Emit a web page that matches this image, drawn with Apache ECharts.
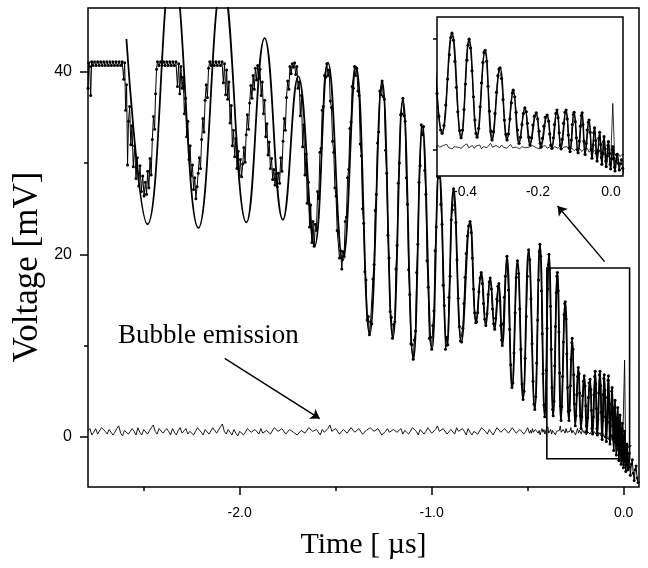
<!DOCTYPE html>
<html>
<head>
<meta charset="utf-8">
<script src="https://cdn.jsdelivr.net/npm/echarts@6/dist/echarts.min.js"></script>
<style>
html, body { margin: 0; padding: 0; background: #fff; }
#chart { width: 648px; height: 568px; }
</style>
</head>
<body>
<div id="chart"></div>
<script>
// measured trace [time µs, voltage mV] (dots joined by a thin line)
var measData = [
  [-2.790,38.2],[-2.786,41.0],[-2.781,40.6],[-2.776,37.4],[-2.771,41.1],[-2.764,40.7],[-2.756,41.1],[-2.748,40.7],[-2.740,41.1],[-2.732,40.7],
  [-2.724,41.1],[-2.716,40.7],[-2.708,41.1],[-2.700,40.7],[-2.692,41.1],[-2.684,40.7],[-2.676,41.1],[-2.668,40.7],[-2.660,41.1],[-2.652,40.7],
  [-2.644,41.1],[-2.636,40.7],[-2.628,41.1],[-2.620,40.7],[-2.612,41.1],[-2.604,39.2],[-2.599,41.0],
  [-2.594,35.8],[-2.589,38.6],[-2.584,29.8],[-2.579,34.6],[-2.573,36.2],[-2.567,32.0],[-2.561,34.1],[-2.554,29.6],[-2.547,31.9],[-2.540,28.3],
  [-2.533,30.6],[-2.526,27.5],[-2.519,29.7],[-2.512,26.9],[-2.505,28.6],[-2.498,26.4],[-2.491,27.9],[-2.485,26.6],[-2.479,29.1],[-2.473,27.3],
  [-2.467,30.5],[-2.461,28.7],[-2.455,32.6],[-2.449,35.1],[-2.443,33.7],[-2.438,37.6],[-2.433,40.3],
  [-2.428,41.1],[-2.420,40.7],[-2.412,41.1],[-2.404,40.7],[-2.396,41.1],[-2.388,40.7],[-2.380,41.1],[-2.372,40.7],[-2.364,41.1],[-2.356,40.7],
  [-2.348,41.1],[-2.340,40.7],[-2.332,41.1],[-2.324,38.4],[-2.318,40.9],[-2.312,37.6],[-2.306,40.6],
  [-2.300,38.2],[-2.294,39.4],[-2.288,35.4],[-2.282,37.1],[-2.276,32.9],[-2.270,34.6],[-2.264,30.4],[-2.258,31.9],[-2.252,28.6],[-2.246,29.8],
  [-2.240,27.1],[-2.234,28.4],[-2.228,26.1],[-2.222,27.4],[-2.216,28.9],[-2.210,30.6],[-2.204,29.4],[-2.198,32.6],[-2.192,34.9],[-2.186,33.4],
  [-2.180,36.9],[-2.174,38.6],[-2.168,37.2],[-2.162,40.4],
  [-2.156,41.1],[-2.148,40.7],[-2.140,41.1],[-2.132,40.7],[-2.124,41.1],[-2.116,40.7],[-2.108,41.1],[-2.100,40.7],[-2.092,41.1],[-2.085,38.8],
  [-2.079,40.9],[-2.073,37.5],[-2.068,40.2],
  [-2.062,37.0],[-2.056,38.9],[-2.050,34.4],[-2.044,36.3],[-2.038,31.9],[-2.032,33.6],[-2.026,30.7],[-2.020,32.7],[-2.014,29.4],[-2.008,31.3],
  [-2.002,28.7],[-1.996,30.4],[-1.990,28.5],[-1.984,29.9],[-1.978,31.7],[-1.972,30.1],[-1.966,33.1],[-1.960,35.3],[-1.954,33.7],[-1.948,36.6],
  [-1.942,38.5],[-1.936,37.1],[-1.930,39.6],[-1.924,38.1],[-1.918,40.4],[-1.912,39.1],[-1.906,40.7],[-1.900,39.3],[-1.894,40.3],[-1.888,37.4],
  [-1.882,38.9],[-1.876,35.4],[-1.870,36.9],[-1.864,32.9],[-1.858,34.3],[-1.852,30.9],[-1.846,32.3],[-1.840,29.4],[-1.834,30.5],[-1.828,28.2],
  [-1.822,29.3],[-1.816,27.6],[-1.810,28.8],[-1.804,27.4],[-1.798,28.9],[-1.792,27.8],[-1.786,30.6],[-1.780,29.1],[-1.774,32.4],[-1.768,34.9],
  [-1.762,33.6],[-1.756,37.2],[-1.750,39.0],[-1.744,38.1],[-1.738,40.6],[-1.732,39.8],[-1.726,40.9],[-1.720,40.5],[-1.714,41.0],[-1.708,39.7],
  [-1.702,40.6],[-1.696,38.2],
  [-1.690,38.9],[-1.684,35.2],[-1.678,37.4],[-1.672,31.8],[-1.666,34.2],[-1.660,28.7],[-1.654,31.0],[-1.648,25.6],[-1.642,27.9],[-1.636,23.0],
  [-1.630,25.4],[-1.624,21.3],[-1.618,23.6],[-1.612,20.9],[-1.606,23.3],[-1.600,22.6],[-1.594,26.9],[-1.588,26.1],[-1.582,31.2],[-1.576,31.6],
  [-1.570,35.8],[-1.564,36.2],[-1.558,39.6],[-1.552,39.4],[-1.546,40.9],[-1.540,39.6],[-1.534,40.2],
  [-1.528,36.8],[-1.522,36.1],[-1.516,32.4],[-1.510,31.2],[-1.504,27.3],[-1.498,26.4],[-1.492,22.6],[-1.486,22.5],[-1.480,19.6],[-1.474,20.4],
  [-1.468,18.4],[-1.462,20.3],[-1.456,19.8],[-1.450,23.6],[-1.444,24.1],[-1.438,28.4],[-1.432,29.3],[-1.426,33.8],[-1.420,34.5],[-1.414,38.4],
  [-1.408,38.2],[-1.402,40.6],[-1.396,39.6],[-1.390,40.4],[-1.384,37.9],
  [-1.378,37.4],[-1.372,32.1],[-1.366,30.8],[-1.360,25.0],[-1.354,23.4],[-1.348,18.1],[-1.342,17.2],[-1.336,12.8],[-1.330,13.2],[-1.324,11.2],
  [-1.318,12.6],[-1.312,12.4],[-1.306,17.3],[-1.300,18.9],[-1.294,24.8],[-1.288,26.6],[-1.282,32.2],[-1.276,33.4],[-1.270,37.9],[-1.264,37.5],
  [-1.258,39.0],[-1.252,37.3],
  [-1.246,37.0],[-1.240,31.4],[-1.234,28.9],[-1.228,22.1],[-1.222,19.6],[-1.216,13.7],[-1.210,13.1],[-1.204,10.8],[-1.198,12.3],[-1.192,12.6],
  [-1.186,18.4],[-1.180,21.0],[-1.174,27.8],[-1.168,30.0],[-1.162,35.3],[-1.156,35.4],[-1.150,37.1],[-1.144,35.2],
  [-1.138,34.6],[-1.132,28.4],[-1.126,25.5],[-1.120,18.3],[-1.114,15.6],[-1.108,10.2],[-1.102,10.1],[-1.096,8.5],[-1.090,10.6],[-1.084,11.6],
  [-1.078,18.0],[-1.072,21.1],[-1.066,27.9],[-1.060,29.7],[-1.054,34.2],[-1.048,33.1],[-1.042,34.0],
  [-1.036,29.2],[-1.030,26.6],[-1.024,19.3],[-1.018,16.4],[-1.012,10.8],[-1.006,10.9],[-1.000,9.6],[-0.994,12.2],[-0.988,13.8],[-0.982,20.4],
  [-0.976,23.0],[-0.970,28.6],[-0.964,28.4],[-0.958,29.4],
  [-0.952,25.5],[-0.946,23.3],[-0.940,16.6],[-0.934,14.4],[-0.928,9.6],[-0.922,10.9],[-0.916,10.1],[-0.910,15.3],[-0.904,17.6],[-0.898,23.8],
  [-0.892,24.9],[-0.886,27.2],[-0.880,25.4],
  [-0.874,23.5],[-0.868,19.4],[-0.862,15.2],[-0.856,12.1],[-0.850,10.5],[-0.844,10.4],[-0.838,11.9],[-0.832,14.6],[-0.826,17.5],[-0.820,20.1],
  [-0.814,22.0],[-0.808,23.1],[-0.800,23.6],
  [-0.794,22.4],[-0.788,19.6],[-0.782,16.2],[-0.776,13.6],[-0.770,12.5],[-0.765,12.6],[-0.760,13.6],[-0.754,15.9],[-0.748,17.4],[-0.742,18.0],
  [-0.736,16.8],[-0.730,14.6],[-0.724,12.9],[-0.718,12.2],[-0.712,13.5],[-0.706,15.6],[-0.700,17.0],[-0.695,17.4],[-0.689,16.2],[-0.683,14.0],
  [-0.677,12.4],[-0.672,11.8],[-0.667,13.0],[-0.661,15.1],[-0.655,16.5],[-0.650,16.8],[-0.645,14.9],[-0.640,12.2],[-0.636,10.6],[-0.632,10.0],
  [-0.627,12.4],[-0.622,15.3],[-0.616,17.6],[-0.608,19.8],[-0.600,16.1],[-0.594,11.8],[-0.588,7.9],[-0.582,5.4],[-0.577,5.9],[-0.571,9.2],
  [-0.565,13.6],[-0.559,17.5],[-0.553,19.3],[-0.547,17.9],[-0.541,14.0],[-0.535,9.6],[-0.529,5.8],[-0.524,4.1],[-0.519,5.0],[-0.513,8.6],
  [-0.507,13.2],[-0.501,17.6],[-0.495,20.5],[-0.489,19.4],[-0.483,15.1],[-0.477,10.2],[-0.472,6.1],[-0.467,3.6],[-0.463,3.0],[-0.458,4.4],
  [-0.453,8.1],[-0.448,12.8],[-0.443,17.2],[-0.439,20.3],[-0.436,21.1],[-0.432,19.8],[-0.428,16.0],[-0.424,11.3],[-0.420,6.9],[-0.415,3.5],
  [-0.411,2.2],[-0.407,3.6],[-0.403,7.3],[-0.399,11.9],[-0.395,16.2],[-0.392,18.9],[-0.389,20.0],[-0.385,18.4],[-0.381,14.3],[-0.377,9.6],
  [-0.373,5.4],[-0.370,3.0],[-0.367,2.3],[-0.363,3.9],[-0.359,7.8],[-0.355,12.1],[-0.351,15.8],[-0.348,17.6],[-0.345,18.0],[-0.341,16.0],
  [-0.337,11.5],[-0.333,7.0],[-0.329,3.4],[-0.326,1.8],[-0.322,3.3],[-0.318,6.6],[-0.314,10.4],[-0.310,13.4],[-0.307,14.6],[-0.304,14.8],
  [-0.300,12.9],[-0.296,9.1],[-0.292,5.4],[-0.288,2.8],[-0.285,1.8],[-0.281,2.9],[-0.277,5.6],[-0.273,8.5],[-0.270,10.3],[-0.268,10.8],
  [-0.264,9.6],[-0.260,6.8],[-0.256,3.6],[-0.252,1.2],[-0.248,2.3],[-0.244,4.6],[-0.240,6.6],[-0.236,7.6],[-0.232,6.9],[-0.229,4.8],
  [-0.225,2.3],[-0.222,0.9],[-0.218,2.2],[-0.214,4.5],[-0.210,6.1],[-0.205,6.7],[-0.201,5.6],[-0.197,3.4],[-0.194,1.2],[-0.192,0.5],
  [-0.188,2.1],[-0.184,4.3],[-0.180,5.9],[-0.175,6.3],[-0.171,5.2],[-0.168,2.9],[-0.165,0.9],[-0.162,0.3],[-0.158,2.2],[-0.155,4.6],
  [-0.151,6.6],[-0.148,7.2],[-0.145,5.8],[-0.142,3.1],[-0.139,0.9],[-0.137,0.2],[-0.134,1.9],[-0.130,4.8],[-0.126,6.8],[-0.123,7.2],
  [-0.120,5.6],[-0.117,2.7],[-0.114,0.4],[-0.112,-0.3],[-0.109,1.8],[-0.106,4.6],[-0.103,6.4],[-0.101,6.8],[-0.098,5.1],[-0.095,2.2],
  [-0.092,0.0],[-0.090,-0.5],[-0.087,1.6],[-0.084,4.3],[-0.081,6.2],[-0.079,6.7],[-0.077,4.6],[-0.074,1.6],[-0.071,-0.8],[-0.068,1.2],
  [-0.065,3.6],[-0.062,5.0],[-0.060,5.4],[-0.057,3.2],[-0.054,0.1],[-0.052,-1.5],[-0.049,0.9],[-0.047,3.1],[-0.045,4.0],[-0.042,1.7],
  [-0.040,-0.6],[-0.038,-2.0],[-0.035,-0.1],[-0.033,2.1],[-0.031,3.2],[-0.028,1.0],[-0.026,-1.4],[-0.025,-2.6],[-0.022,-0.6],[-0.020,1.5],
  [-0.019,2.4],[-0.016,0.2],[-0.014,-2.0],[-0.013,-3.0],[-0.010,-1.1],[-0.008,0.8],[-0.007,1.5],[-0.004,-0.7],[-0.002,-2.6],[-0.001,-3.4],
  [0.002,-1.6],[0.004,0.1],[0.005,0.6],[0.008,-1.5],[0.010,-3.1],[0.011,-3.8],[0.014,-2.0],[0.016,-0.9],[0.017,-0.8],[0.020,-2.4],
  [0.023,-3.6],[0.026,-2.5],[0.029,-1.8],[0.032,-3.3],[0.035,-4.2],[0.040,-3.0],[0.045,-2.5],[0.050,-4.0],[0.055,-4.8],[0.060,-3.6],
  [0.065,-3.2],[0.070,-4.5],[0.075,-5.0]
];

// fitted curve, turning points only (drawn smooth)
var fitData = [
  [-2.590,43.6],[-2.480,23.3],[-2.350,51.8],[-2.215,22.9],[-2.090,50.0],[-1.965,23.5],[-1.870,43.7],[-1.775,23.8],[-1.695,39.5],[-1.610,20.9],
  [-1.540,41.0],[-1.463,19.3],[-1.394,40.6],[-1.323,11.2],[-1.258,39.0],[-1.202,10.8],[-1.150,37.0],[-1.095,8.5],[-1.048,34.0],[-0.998,9.6],
  [-0.961,29.3],[-0.921,9.9],[-0.886,27.2],[-0.845,10.4],[-0.800,23.6],[-0.768,12.5],[-0.742,18.0],[-0.718,12.2],[-0.695,17.4],[-0.672,11.8],
  [-0.650,16.8],[-0.632,10.0],[-0.608,19.8],[-0.581,5.3],[-0.553,19.3],[-0.524,4.1],[-0.495,20.5],[-0.463,3.0],[-0.436,21.1],[-0.411,2.2],
  [-0.389,20.0],[-0.367,2.3],[-0.345,18.0],[-0.326,1.8],[-0.304,14.8],[-0.285,1.8],[-0.268,10.8],[-0.252,1.2],[-0.236,7.6],[-0.222,0.9],
  [-0.205,6.7],[-0.192,0.5],[-0.175,6.3],[-0.162,0.3],[-0.148,7.2],[-0.137,0.2],[-0.123,7.2],[-0.112,-0.3],[-0.101,6.8],[-0.090,-0.5],
  [-0.079,6.7],[-0.071,-0.8],[-0.060,5.4],[-0.052,-1.5],[-0.045,4.0],[-0.038,-2.0],[-0.031,3.2],[-0.025,-2.6],[-0.019,2.4],[-0.013,-3.0],
  [-0.007,1.5],[-0.001,-3.4],[0.005,0.6],[0.011,-3.8],[0.017,-0.8],[0.023,-3.6]
];

// bubble emission trace (no dots)
var noiseData = [
  [-2.79,0.6],[-2.78,0.9],[-2.77,0.2],[-2.76,0.5],[-2.75,0.9],[-2.74,0.3],[-2.73,0.4],[-2.72,1.0],[-2.71,1.1],[-2.70,0.6],
  [-2.69,0.3],[-2.68,0.8],[-2.67,0.7],[-2.66,0.2],[-2.65,0.5],[-2.64,0.9],[-2.63,1.2],[-2.62,0.4],[-2.61,0.1],[-2.60,0.7],
  [-2.59,0.8],[-2.58,0.3],[-2.57,0.4],[-2.56,0.9],[-2.55,0.6],[-2.54,0.2],[-2.53,1.0],[-2.52,0.5],[-2.51,0.2],[-2.50,0.8],
  [-2.49,0.7],[-2.48,0.3],[-2.47,0.5],[-2.46,1.0],[-2.45,1.3],[-2.44,0.6],[-2.43,0.3],[-2.42,0.9],[-2.41,0.8],[-2.40,0.4],
  [-2.39,0.4],[-2.38,0.9],[-2.37,0.6],[-2.36,0.2],[-2.35,0.9],[-2.34,0.5],[-2.33,0.2],[-2.32,0.7],[-2.31,1.0],[-2.30,0.4],
  [-2.29,0.5],[-2.28,0.9],[-2.27,0.3],[-2.26,0.6],[-2.25,0.8],[-2.24,0.2],[-2.23,0.6],[-2.22,1.0],[-2.21,1.1],[-2.20,0.5],
  [-2.19,0.2],[-2.18,0.8],[-2.17,0.7],[-2.16,0.3],[-2.15,0.4],[-2.14,1.0],[-2.13,0.9],[-2.12,0.4],[-2.11,0.5],[-2.10,1.1],
  [-2.09,1.4],[-2.08,0.6],[-2.07,0.3],[-2.06,0.8],[-2.05,0.6],[-2.04,0.2],[-2.03,0.8],[-2.02,0.4],[-2.01,0.1],[-2.00,0.6],
  [-1.99,0.7],[-1.98,0.2],[-1.97,0.5],[-1.96,0.9],[-1.95,1.0],[-1.94,0.5],[-1.93,0.3],[-1.92,0.8],[-1.91,0.6],[-1.90,0.3],
  [-1.89,0.9],[-1.88,0.4],[-1.87,0.2],[-1.86,0.7],[-1.85,0.8],[-1.84,0.3],[-1.83,0.5],[-1.82,1.0],[-1.81,1.2],[-1.80,0.6],
  [-1.79,0.4],[-1.78,0.9],[-1.77,0.7],[-1.76,0.3],[-1.75,0.3],[-1.74,0.8],[-1.73,1.0],[-1.72,0.5],[-1.71,0.6],[-1.70,0.2],
  [-1.69,0.2],[-1.68,0.7],[-1.67,0.9],[-1.66,0.4],[-1.65,0.5],[-1.64,1.0],[-1.63,1.1],[-1.62,0.6],[-1.61,0.4],[-1.60,0.8],
  [-1.59,0.6],[-1.58,0.2],[-1.57,0.8],[-1.56,0.5],[-1.55,0.3],[-1.54,0.9],[-1.53,1.3],[-1.52,0.6],[-1.51,0.5],[-1.50,0.9],
  [-1.49,0.7],[-1.48,0.3],[-1.47,0.2],[-1.46,0.8],[-1.45,0.9],[-1.44,0.4],[-1.43,0.6],[-1.42,1.0],[-1.41,1.0],[-1.40,0.5],
  [-1.39,0.4],[-1.38,0.9],[-1.37,0.8],[-1.36,0.3],[-1.35,0.3],[-1.34,0.7],[-1.33,0.6],[-1.32,1.0],[-1.31,1.2],[-1.30,0.6],
  [-1.29,0.5],[-1.28,0.9],[-1.27,0.7],[-1.26,0.2],[-1.25,0.1],[-1.24,0.6],[-1.23,0.9],[-1.22,0.5],[-1.21,0.4],[-1.20,0.8],
  [-1.19,1.0],[-1.18,0.5],[-1.17,0.6],[-1.16,0.9],[-1.15,0.3],[-1.14,0.7],[-1.13,0.8],[-1.12,0.3],[-1.11,0.5],[-1.10,1.0],
  [-1.09,1.1],[-1.08,0.6],[-1.07,0.2],[-1.06,0.8],[-1.05,0.7],[-1.04,0.3],[-1.03,0.6],[-1.02,1.0],[-1.01,0.9],[-1.00,0.4],
  [-0.99,0.4],[-0.98,0.8],[-0.97,1.2],[-0.96,0.6],[-0.95,0.5],[-0.94,0.9],[-0.93,0.8],[-0.92,0.3],[-0.91,0.3],[-0.90,0.8],
  [-0.89,0.7],[-0.88,0.3],[-0.87,1.0],[-0.86,0.6],[-0.85,0.4],[-0.84,0.9],[-0.83,0.6],[-0.82,0.2],[-0.81,0.9],[-0.80,0.5],
  [-0.79,0.2],[-0.78,0.6],[-0.77,0.8],[-0.76,0.3],[-0.75,0.5],[-0.74,1.0],[-0.73,1.1],[-0.72,0.6],[-0.71,0.3],[-0.70,0.8],
  [-0.69,0.7],[-0.68,0.2],[-0.67,0.6],[-0.66,1.0],[-0.65,1.0],[-0.64,0.5],[-0.63,0.4],[-0.62,0.9],[-0.61,0.8],[-0.60,0.4],
  [-0.59,0.5],[-0.58,1.0],[-0.57,0.9],[-0.56,0.4],[-0.55,0.3],[-0.54,0.8],[-0.53,0.7],[-0.52,0.3],[-0.51,0.6],[-0.50,1.0],
  [-0.49,0.4],
  [-0.485,0.7],[-0.480,0.4],[-0.475,0.9],[-0.470,0.5],[-0.465,0.3],[-0.460,0.8],[-0.455,0.6],[-0.450,1.0],[-0.445,0.4],[-0.440,0.7],
  [-0.435,0.2],[-0.430,0.6],[-0.425,0.9],[-0.420,0.5],[-0.415,0.8],[-0.410,0.3],[-0.405,0.7],[-0.400,0.5],[-0.395,1.1],[-0.390,0.4],
  [-0.385,0.6],[-0.380,0.8],[-0.375,0.3],[-0.370,0.7],[-0.365,0.5],[-0.360,0.9],[-0.355,0.2],[-0.350,0.6],[-0.345,0.8],[-0.340,0.4],
  [-0.335,0.7],[-0.330,1.2],[-0.325,0.5],[-0.320,0.3],[-0.315,0.8],[-0.310,0.6],[-0.305,0.4],[-0.300,0.9],[-0.295,0.5],[-0.290,0.7],
  [-0.285,0.3],[-0.280,0.6],[-0.275,1.0],[-0.270,0.4],[-0.265,0.7],[-0.260,0.5],[-0.255,0.8],[-0.250,0.2],[-0.245,0.6],[-0.240,0.9],
  [-0.235,0.4],[-0.230,0.7],[-0.225,0.5],[-0.220,0.3],[-0.215,0.8],[-0.210,0.6],[-0.205,0.4],[-0.200,0.7],[-0.195,0.2],[-0.190,0.6],
  [-0.185,0.5],[-0.180,0.8],[-0.175,0.3],[-0.170,0.5],[-0.165,0.7],[-0.160,0.2],[-0.155,0.6],[-0.150,0.4],[-0.145,0.3],[-0.140,0.7],
  [-0.135,0.1],[-0.130,0.5],[-0.125,0.3],[-0.120,0.6],[-0.115,0.0],[-0.110,0.4],[-0.105,0.2],[-0.100,-0.1],[-0.095,0.3],[-0.090,0.0],
  [-0.085,0.2],[-0.080,-0.3],[-0.075,0.1],[-0.070,-0.2],[-0.065,0.3],[-0.060,-0.4],[-0.055,0.0],[-0.050,-0.5],[-0.045,-0.1],[-0.040,-0.3],
  [-0.035,-0.6],[-0.030,-0.2],[-0.025,-0.7],[-0.020,-0.4],[-0.015,-0.9],[-0.010,-0.5],[-0.005,-0.8],[0.000,-0.6],[0.005,8.4],[0.010,-0.9],
  [0.015,-1.0],[0.020,-0.7],[0.025,-1.2],[0.030,-0.8],[0.035,-1.1],[0.040,-0.9]
];

// axis ticks and labels
var mainXLabels = [-2, -1, 0];
var mainXMinor = [-2.5, -1.5, -0.5];
var mainYLabels = [0, 20, 40];
var mainYMinor = [10, 30];
var insetXLabels = [-0.4, -0.2, 0];
var insetYTicks = [0, 20];

// annotations in data units
var zoomBox = [[-0.4, 18.5], [0.031, -2.4]];
var bubbleArrow = [[-2.078, 8.6], [-1.583, 2.0]];
var insetArrow = [[-0.099, 19.2], [-0.344, 25.3]];

var chart = echarts.init(document.getElementById('chart'));
var sans = 'Liberation Sans', serif = 'Liberation Serif';

function blankAxis(extra) {
    var a = {
        type: 'value',
        axisLine: { show: false, onZero: false },
        splitLine: { show: false },
        axisTick: { show: false },
        axisLabel: { show: false }
    };
    for (var k in extra) a[k] = extra[k];
    return a;
}

var tickStyle = { color: '#000', width: 1.5 };

var option = {
    animation: false,
    backgroundColor: '#fff',
    textStyle: { fontFamily: sans, color: '#000' },
    grid: [
        { left: 88, top: 8, width: 551, height: 479, show: true, borderColor: '#000', borderWidth: 1.5, outerBoundsMode: 'none' },
        { left: 437, top: 17, width: 186, height: 159, show: true, borderColor: '#000', borderWidth: 1.5,
          backgroundColor: '#fff', z: 10, outerBoundsMode: 'none' }
    ],
    xAxis: [
        blankAxis({
            gridIndex: 0, min: -2.79, max: 0.08, position: 'bottom',
            axisTick: { show: true, length: 8, customValues: mainXLabels, lineStyle: tickStyle },
            axisLabel: { show: true, customValues: mainXLabels, margin: 19, fontSize: 14, color: '#000',
                         formatter: function (v) { return v.toFixed(1); } },
            name: 'Time [ \u00b5s]', nameLocation: 'middle', nameGap: 43,
            nameTextStyle: { fontFamily: serif, fontSize: 30, color: '#000' }
        }),
        blankAxis({
            gridIndex: 0, min: -2.79, max: 0.08, position: 'bottom',
            axisTick: { show: true, length: 4, customValues: mainXMinor, lineStyle: tickStyle }
        }),
        blankAxis({
            gridIndex: 1, min: -0.477, max: 0.033, position: 'bottom', z: 11,
            axisLabel: { show: true, customValues: insetXLabels, margin: 9, fontSize: 14, color: '#000',
                         formatter: function (v) { return v.toFixed(1); } }
        })
    ],
    yAxis: [
        blankAxis({
            gridIndex: 0, min: -5.5, max: 47, position: 'left',
            axisTick: { show: true, length: 8, customValues: mainYLabels, lineStyle: tickStyle },
            axisLabel: { show: true, customValues: mainYLabels, margin: 16, fontSize: 16, color: '#000' }
        }),
        blankAxis({
            gridIndex: 0, min: -5.5, max: 47, position: 'left',
            axisTick: { show: true, length: 4, customValues: mainYMinor, lineStyle: tickStyle }
        }),
        blankAxis({
            gridIndex: 1, min: -4.7, max: 24, position: 'left', z: 11,
            axisTick: { show: true, length: 4, customValues: insetYTicks, lineStyle: tickStyle }
        })
    ],
    graphic: [
        { type: 'text', left: 118, top: 322, z: 20,
          style: { text: 'Bubble emission', font: '27px "Liberation Serif"', fill: '#000' } },
        { type: 'text', x: 28, y: 267, rotation: Math.PI / 2, z: 20,
          style: { text: 'Voltage [mV]', font: '35px "Liberation Serif"', fill: '#000',
                   align: 'center', verticalAlign: 'middle' } }
    ],
    series: [
        {
            type: 'line', xAxisIndex: 0, yAxisIndex: 0, data: noiseData,
            showSymbol: false, lineStyle: { color: '#000', width: 0.9 }, z: 2,
            markArea: {
                silent: true,
                itemStyle: { color: 'rgba(0,0,0,0)', borderColor: '#000', borderWidth: 1.6 },
                data: [[{ coord: zoomBox[0] }, { coord: zoomBox[1] }]]
            },
            markLine: {
                silent: true, symbol: ['none', 'arrow'], symbolSize: 9,
                label: { show: false },
                lineStyle: { color: '#000', width: 1.4, type: 'solid' },
                data: [
                    [{ coord: bubbleArrow[0] }, { coord: bubbleArrow[1] }],
                    [{ coord: insetArrow[0] }, { coord: insetArrow[1] }]
                ]
            }
        },
        {
            type: 'line', xAxisIndex: 0, yAxisIndex: 0, data: measData,
            symbol: 'circle', symbolSize: 3, showAllSymbol: true,
            itemStyle: { color: '#000' }, lineStyle: { color: '#000', width: 1 }, z: 3
        },
        {
            type: 'line', xAxisIndex: 0, yAxisIndex: 0, data: fitData, smooth: 0.45,
            showSymbol: false, lineStyle: { color: '#000', width: 1.8 }, z: 4
        },
        {
            type: 'line', xAxisIndex: 2, yAxisIndex: 2, data: noiseData,
            showSymbol: false, lineStyle: { color: '#000', width: 0.8 }, z: 12
        },
        {
            type: 'line', xAxisIndex: 2, yAxisIndex: 2, data: measData,
            symbol: 'circle', symbolSize: 3.2, showAllSymbol: true,
            itemStyle: { color: '#000' }, lineStyle: { color: '#000', width: 0.8 }, z: 13
        },
        {
            type: 'line', xAxisIndex: 2, yAxisIndex: 2, data: fitData, smooth: 0.45,
            showSymbol: false, lineStyle: { color: '#000', width: 1.5 }, z: 14
        }
    ]
};
chart.setOption(option);
</script>
</body>
</html>
